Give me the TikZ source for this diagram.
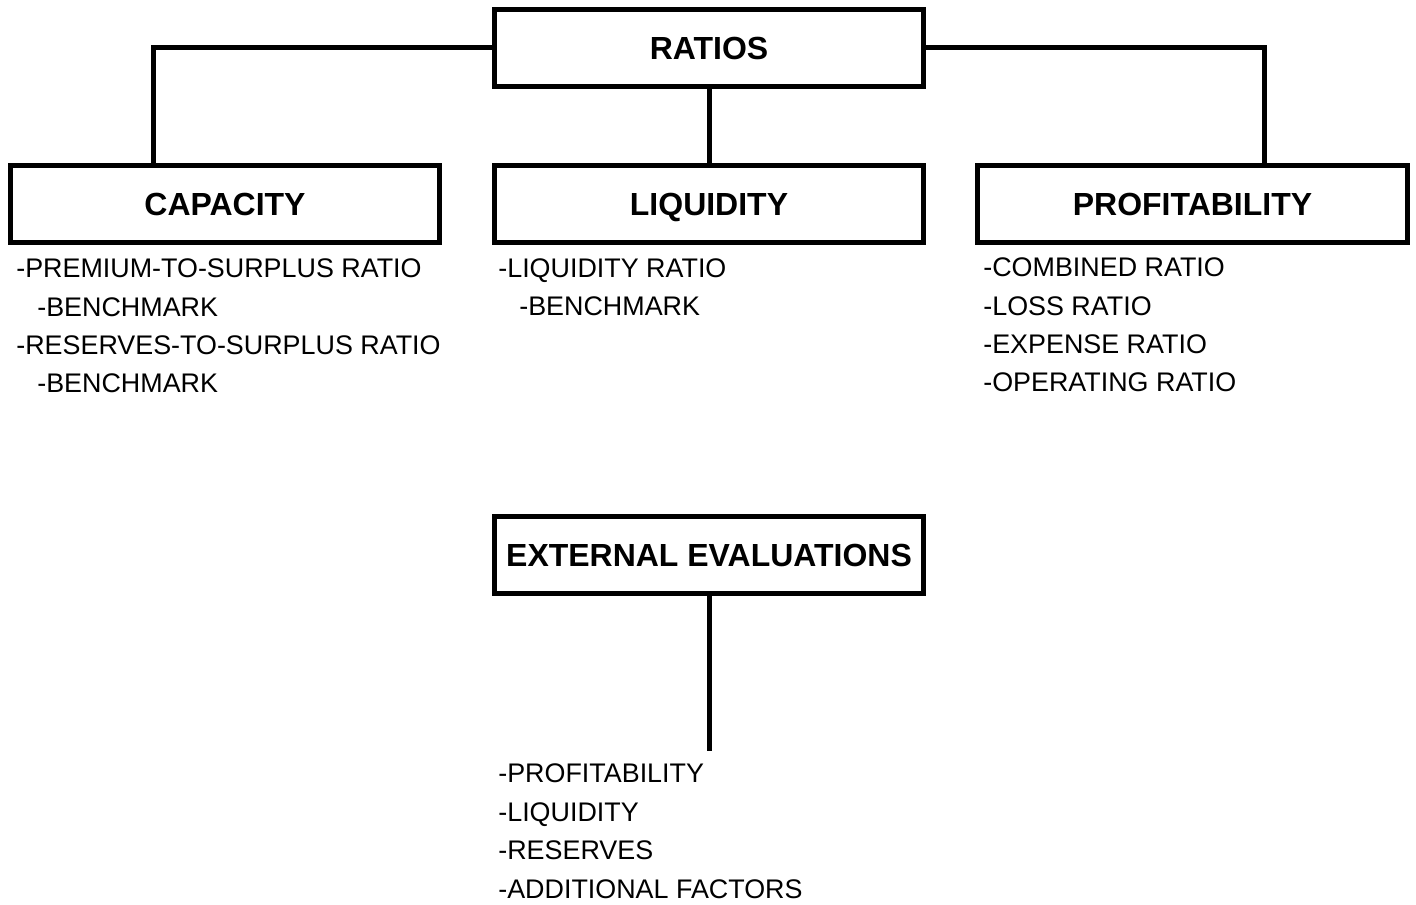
\documentclass[tikz,border=0pt]{standalone}
\usepackage{fontspec}
\setmainfont{Liberation Sans}
\begin{document}
\begin{tikzpicture}[x=0.02cm, y=-0.02cm,
    box/.style={draw, line width=0.1cm, minimum width=8.6cm, minimum height=1.56cm,
        inner sep=0pt, text height=13pt, text depth=0pt,
        font=\fontsize{18.2}{20}\selectfont\bfseries},
    conn/.style={line width=0.1cm},
    items/.style={anchor=base west, align=left, inner sep=0pt,
        font=\fontsize{15.3}{21.9}\selectfont}]
    \useasboundingbox (0,0) rectangle (1416,905);

    % Kaesten
    \node[box] (ratios) at (709,48) {RATIOS};
    \node[box] (capacity) at (225,204) {CAPACITY};
    \node[box] (liquidity) at (709,204) {LIQUIDITY};
    \node[box] (profit) at (1192.5,204) {PROFITABILITY};
    \node[box] (external) at (709,555) {EXTERNAL EVALUATIONS};

    % Verbindungen
    \draw[conn] (ratios.west) -| ([xshift=-1.44cm]capacity.north);
    \draw[conn] (ratios.east) -| ([xshift=1.43cm]profit.north);
    \draw[conn] (ratios.south) -- (liquidity.north);
    \coordinate (extend) at (709,751);
    \draw[conn] (external.south) -- (extend);

    % Listen (Anker = Grundlinie der letzten Zeile)
    \node[items] (capitems) at (16,393) {-PREMIUM-TO-SURPLUS RATIO\\
        \hspace*{0.42cm}-BENCHMARK\\
        -RESERVES-TO-SURPLUS RATIO\\
        \hspace*{0.42cm}-BENCHMARK};
    \node[items] (liqitems) at (498,315.6) {-LIQUIDITY RATIO\\
        \hspace*{0.42cm}-BENCHMARK};
    \node[items] (profitems) at (983,392) {-COMBINED RATIO\\
        -LOSS RATIO\\
        -EXPENSE RATIO\\
        -OPERATING RATIO};
    \node[items] (extitems) at (498,898) {-PROFITABILITY\\
        -LIQUIDITY\\
        -RESERVES\\
        -ADDITIONAL FACTORS};
\end{tikzpicture}
\end{document}
